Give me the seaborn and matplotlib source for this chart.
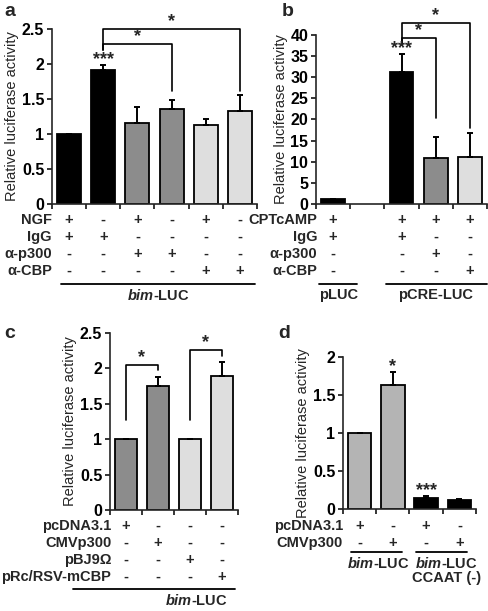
import numpy as np
import pandas as pd
import matplotlib
matplotlib.use('Agg')
import matplotlib.pyplot as plt
import seaborn as sns
from matplotlib.transforms import blended_transform_factory

# ---- styl ----
sns.set_theme(style='ticks')
plt.rcParams['font.family'] = ['Liberation Sans', 'DejaVu Sans']
plt.rcParams['font.weight'] = 'bold'
plt.rcParams['mathtext.fontset'] = 'custom'
plt.rcParams['mathtext.it'] = 'Liberation Sans:italic:bold'
plt.rcParams['mathtext.rm'] = 'Liberation Sans:bold'
plt.rcParams['axes.linewidth'] = 1.2

BLACK = '#000000'
GREY = '#8c8c8c'
LIGHT = '#dedede'
MID = '#b4b4b4'
FS = 10.5    # tekst tabelki
FS_TICK = 11.5

# ---- dane: panel a ----
a_bars = ['a1', 'a2', 'a3', 'a4', 'a5', 'a6']
a_values = [1.0, 1.92, 1.15, 1.35, 1.13, 1.33]
a_errors = [0, 0.06, 0.23, 0.14, 0.09, 0.22]
a_colors = [BLACK, BLACK, GREY, GREY, LIGHT, LIGHT]
a_rows = ['NGF', 'IgG', 'α-p300', 'α-CBP']
a_signs = [['+', '-', '+', '-', '+', '-'],
           ['+', '+', '-', '-', '-', '-'],
           ['-', '-', '+', '+', '-', '-'],
           ['-', '-', '-', '-', '+', '+']]
a_yticks = [0, 0.5, 1, 1.5, 2, 2.5]
a_ticklabels = ['0', '0.5', '1', '1.5', '2', '2.5']
# (lewy słupek, prawy słupek, góra, dół lewej nóżki, dół prawej nóżki, znak)
a_brackets = [(1, 3, 2.29, 2.20, 1.62, '*'), (1, 5, 2.50, 2.20, 1.62, '*')]
a_stars = [(1, '***')]

# ---- dane: panel b (pusta kolumna po pLUC) ----
b_order = ['b1', 'gap', 'b2', 'b3', 'b4']
b_bars = ['b1', 'b2', 'b3', 'b4']
b_values = [1.1, 31.2, 10.8, 11.2]
b_errors = [0, 4.2, 5.0, 5.5]
b_colors = [BLACK, BLACK, GREY, LIGHT]
b_rows = ['CPTcAMP', 'IgG', 'α-p300', 'α-CBP']
b_signs = [['+', '+', '+', '+'],
           ['+', '+', '-', '-'],
           ['-', '-', '+', '-'],
           ['-', '-', '-', '+']]
b_yticks = [0, 5, 10, 15, 20, 25, 30, 35, 40]
b_ticklabels = ['0', '5', '10', '15', '20', '25', '30', '35', '40']
b_brackets = [(2, 3, 39.4, 37.6, 20.3, '*'), (2, 4, 42.9, 37.6, 18.0, '*')]
b_stars = [(1, '***')]

# ---- dane: panel c ----
c_bars = ['c1', 'c2', 'c3', 'c4']
c_values = [1.0, 1.75, 1.0, 1.89]
c_errors = [0, 0.13, 0, 0.20]
c_colors = [GREY, GREY, LIGHT, LIGHT]
c_rows = ['pcDNA3.1', 'CMVp300', 'pBJ9Ω', 'pRc/RSV-mCBP']
c_signs = [['+', '-', '-', '-'],
           ['-', '+', '-', '-'],
           ['-', '-', '+', '-'],
           ['-', '-', '-', '+']]
c_yticks = [0, 0.5, 1, 1.5, 2, 2.5]
c_ticklabels = ['0', '0.5', '1', '1.5', '2', '2.5']
c_brackets = [(0, 1, 2.05, 1.27, 1.98, '*'), (2, 3, 2.26, 1.27, 2.17, '*')]

# ---- dane: panel d ----
d_bars = ['d1', 'd2', 'd3', 'd4']
d_values = [1.0, 1.63, 0.14, 0.12]
d_errors = [0, 0.17, 0.025, 0.01]
d_colors = [MID, MID, BLACK, BLACK]
d_rows = ['pcDNA3.1', 'CMVp300']
d_signs = [['+', '-', '+', '-'],
           ['-', '+', '-', '+']]
d_yticks = [0, 0.5, 1, 1.5, 2]
d_ticklabels = ['0', '0.5', '1', '1.5', '2']
d_stars = [(1, '*'), (2, '***')]

W, H = 489, 611
fig = plt.figure(figsize=(W / 100, H / 100), dpi=100)


def box(left, top, right, bottom):
    # pozycja osi w pikselach -> ułamki figury
    return [left / W, 1 - bottom / H, (right - left) / W, (bottom - top) / H]


def panel(ax, order, names, values, errors, colors, ylim, yticks, ticklabels):
    df = pd.DataFrame({'bar': names, 'value': values})
    sns.barplot(data=df, x='bar', y='value', hue='bar', order=order,
                hue_order=names, palette=dict(zip(names, colors)),
                width=0.7, edgecolor='black', linewidth=1.3,
                errorbar=None, legend=False, ax=ax)
    pos = [order.index(n) for n in names]
    ax.errorbar(pos, values, yerr=[np.zeros(len(values)), errors], fmt='none',
                ecolor='black', elinewidth=1.4, capsize=2.5, capthick=1.4)
    ax.set_xlim(-0.5, len(order) - 0.5)
    ax.set_xticks(np.arange(-0.5, len(order), 1))
    ax.set_xticklabels([])
    ax.set_ylim(*ylim)
    ax.set_yticks(yticks)
    ax.set_yticklabels(ticklabels, fontsize=FS_TICK, fontweight='bold')
    ax.tick_params(axis='both', length=3.5, width=1.1, pad=2, colors='black')
    ax.set_xlabel('')
    ax.set_ylabel('Relative luciferase activity', fontsize=10.5,
                  fontweight='normal', labelpad=2)
    sns.despine(ax=ax)
    return pos


def brackets(ax, items):
    for x1, x2, top, leg1, leg2, mark in items:
        ax.plot([x1, x1, x2, x2], [leg1, top, top, leg2], color='black',
                lw=1.2, clip_on=False)
        ax.annotate(mark, ((x1 + x2) / 2, top), xytext=(0, -1),
                    textcoords='offset points', ha='center', va='bottom',
                    fontsize=13, fontweight='bold', annotation_clip=False)


def stars(ax, items, pos, values, errors):
    for i, mark in items:
        ax.annotate(mark, (pos[i], values[i] + errors[i]), xytext=(0, -2),
                    textcoords='offset points', ha='center', va='bottom',
                    fontsize=13, fontweight='bold', annotation_clip=False)


def rows(ax, names, signs, pos, rows_y, label_dx=0):
    tr = blended_transform_factory(ax.transData, fig.transFigure)
    for name, row, y in zip(names, signs, rows_y):
        yf = 1 - y / H
        ax.annotate(name, (-0.5, yf), xycoords=tr, xytext=(label_dx, 0),
                    textcoords='offset points', ha='right', va='center',
                    fontsize=FS, fontweight='bold', annotation_clip=False)
        for p, s in zip(pos, row):
            ax.text(p, yf, s, transform=tr, ha='center', va='center',
                    fontsize=FS, fontweight='bold')


def group(ax, x1, x2, y_line, label, x_text):
    tr = blended_transform_factory(ax.transData, fig.transFigure)
    ax.plot([x1, x2], [1 - y_line / H] * 2, color='black', lw=1.3,
            transform=tr, clip_on=False)
    ax.text(x_text, 1 - (y_line + 4) / H, label, transform=tr, ha='center',
            va='top', fontsize=FS, fontweight='bold', linespacing=1.0)


# --- panel a ---
ax_a = fig.add_axes(box(52, 29, 257, 204))
pos = panel(ax_a, a_bars, a_bars, a_values, a_errors, a_colors, (0, 2.5),
            a_yticks, a_ticklabels)
brackets(ax_a, a_brackets)
stars(ax_a, a_stars, pos, a_values, a_errors)
rows(ax_a, a_rows, a_signs, pos, [220, 237, 254, 271])
group(ax_a, -0.25, 5.45, 284, r'$\mathit{bim}$-LUC', 2.6)

# --- panel b ---
ax_b = fig.add_axes(box(316, 35, 487, 204))
pos = panel(ax_b, b_order, b_bars, b_values, b_errors, b_colors, (0, 40),
            b_yticks, b_ticklabels)
brackets(ax_b, b_brackets)
stars(ax_b, b_stars, pos, b_values, b_errors)
rows(ax_b, b_rows, b_signs, pos, [220, 237, 254, 271], label_dx=1)
group(ax_b, -0.4, 0.7, 284, 'pLUC', 0.15)
group(ax_b, 1.55, 4.5, 284, 'pCRE-LUC', 3.0)

# --- panel c ---
ax_c = fig.add_axes(box(110, 333, 238, 510))
pos = panel(ax_c, c_bars, c_bars, c_values, c_errors, c_colors, (0, 2.5),
            c_yticks, c_ticklabels)
brackets(ax_c, c_brackets)
rows(ax_c, c_rows, c_signs, pos, [526, 543, 560, 577], label_dx=1)
group(ax_c, -1.65, 3.4, 589, r'$\mathit{bim}$-LUC', 2.2)

# --- panel d ---
ax_d = fig.add_axes(box(343, 357, 476, 509))
pos = panel(ax_d, d_bars, d_bars, d_values, d_errors, d_colors, (0, 2),
            d_yticks, d_ticklabels)
stars(ax_d, d_stars, pos, d_values, d_errors)
rows(ax_d, d_rows, d_signs, pos, [526, 543])
group(ax_d, -0.26, 1.26, 552, r'$\mathit{bim}$-LUC', 0.55)
group(ax_d, 1.71, 3.23, 552, '$\\mathit{bim}$-LUC\nCCAAT (-)', 2.6)

# --- litery paneli ---
for letter, x, y in [('a', 4, 11), ('b', 282, 11), ('c', 4, 333), ('d', 278, 333)]:
    fig.text(x / W, 1 - y / H, letter, fontsize=14, fontweight='bold',
             ha='left', va='center')

plt.savefig('out.png', dpi=100)
plt.close()
